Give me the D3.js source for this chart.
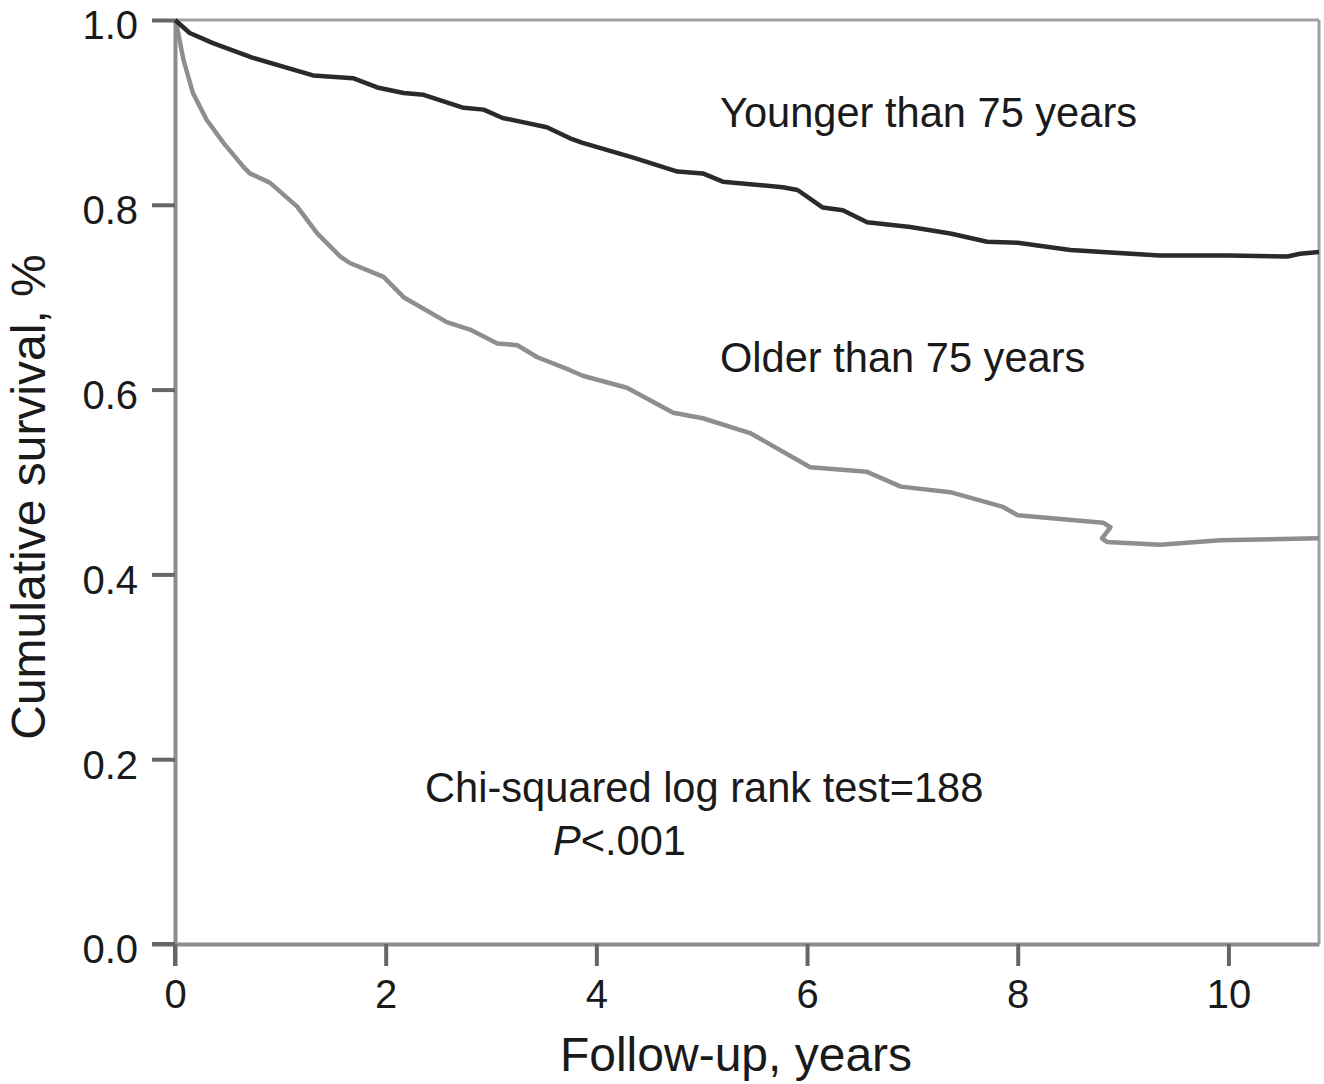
<!DOCTYPE html>
<html>
    <head>
        <title>Cumulative survival</title>
        <style>
            body { margin: 0; background: #fff; }
            text { font-family: "Liberation Sans", Arial, sans-serif; fill: #1a1a1a; }
        </style>
    </head>
    <body>
        <svg></svg>

        <script src="https://d3js.org/d3.v7.min.js"></script>
        <script>
            // years of follow-up and survival
            var youngT = [0, 0.14, 0.36, 0.74, 1.31, 1.69, 1.92, 2.17, 2.36, 2.74, 2.93, 3.11, 3.53, 3.75, 3.87, 4.35, 4.77, 5.01, 5.20, 5.77, 5.91, 6.15, 6.34, 6.57, 6.98, 7.36, 7.71, 8.0, 8.50, 9.35, 10.0, 10.56, 10.68, 10.86];
            var youngS = [1.0, 0.986, 0.975, 0.959, 0.940, 0.937, 0.927, 0.921, 0.919, 0.905, 0.903, 0.894, 0.884, 0.872, 0.867, 0.851, 0.836, 0.834, 0.825, 0.819, 0.816, 0.797, 0.794, 0.781, 0.776, 0.769, 0.760, 0.759, 0.751, 0.745, 0.745, 0.744, 0.747, 0.749];

            var oldT = [0, 0.02, 0.08, 0.17, 0.30, 0.46, 0.65, 0.71, 0.90, 1.16, 1.35, 1.57, 1.66, 1.98, 2.17, 2.58, 2.80, 3.06, 3.25, 3.44, 3.75, 3.87, 4.29, 4.73, 5.01, 5.46, 6.03, 6.57, 6.89, 7.36, 7.86, 8.00, 8.81, 8.88, 8.80, 8.85, 9.35, 9.92, 10.86];
            var oldS = [1.0, 0.992, 0.957, 0.921, 0.892, 0.867, 0.841, 0.834, 0.824, 0.798, 0.769, 0.744, 0.737, 0.722, 0.700, 0.673, 0.665, 0.650, 0.648, 0.635, 0.621, 0.615, 0.602, 0.575, 0.569, 0.553, 0.516, 0.511, 0.495, 0.489, 0.473, 0.464, 0.456, 0.451, 0.439, 0.435, 0.432, 0.437, 0.439];

            var xTicks = [0, 2, 4, 6, 8, 10];
            var yTicks = [0.0, 0.2, 0.4, 0.6, 0.8, 1.0];

            window.onload = function(){
                var svg = d3.select("svg")
                    .attr("width", 1324)
                    .attr("height", 1084);

                var x = d3.scaleLinear().domain([0, 10.86]).range([175, 1319]);
                var y = d3.scaleLinear().domain([0, 1]).range([944, 20]);

                var axisColor = "#8c8c8c";
                var tickColor = "#666";

                // frame top and right
                svg.append("line")
                    .attr("x1", x(0)).attr("x2", x(10.86))
                    .attr("y1", y(1)).attr("y2", y(1))
                    .attr("stroke", "#a0a0a0").attr("stroke-width", 3);
                svg.append("line")
                    .attr("x1", x(10.86)).attr("x2", x(10.86))
                    .attr("y1", y(1)).attr("y2", y(0))
                    .attr("stroke", "#a0a0a0").attr("stroke-width", 3);

                // y axis
                var yAxis = svg.append("g")
                    .attr("transform", "translate(" + x(0) + ",0)")
                    .call(d3.axisLeft(y).tickValues(yTicks).tickFormat(d3.format(".1f")).tickSize(23).tickSizeOuter(0).tickPadding(14));
                // x axis
                var xAxis = svg.append("g")
                    .attr("transform", "translate(0," + y(0) + ")")
                    .call(d3.axisBottom(x).tickValues(xTicks).tickFormat(d3.format("d")).tickSize(22).tickSizeOuter(0).tickPadding(14));

                [yAxis, xAxis].forEach(function(a){
                    a.select(".domain").attr("stroke", axisColor).attr("stroke-width", 4);
                    a.selectAll(".tick line").attr("stroke", tickColor).attr("stroke-width", 4);
                    a.selectAll(".tick text")
                        .attr("font-size", 40)
                        .attr("fill", "#1a1a1a")
                        .attr("font-family", "Liberation Sans, Arial, sans-serif");
                });
                // labels on the left sit a little below their ticks
                yAxis.selectAll(".tick text").attr("dy", "0.47em");

                // left axis line extends to the x tick length below 0
                svg.append("line")
                    .attr("x1", x(0)).attr("x2", x(0))
                    .attr("y1", y(0)).attr("y2", y(0) + 22)
                    .attr("stroke", tickColor).attr("stroke-width", 4);
                svg.append("line")
                    .attr("x1", x(0) - 23).attr("x2", x(0))
                    .attr("y1", y(0)).attr("y2", y(0))
                    .attr("stroke", tickColor).attr("stroke-width", 4);

                // survival curves
                var line = d3.line()
                    .x(function(d){ return x(d[0]); })
                    .y(function(d){ return y(d[1]); });

                var oldPts = oldT.map(function(t, i){ return [t, oldS[i]]; });
                var youngPts = youngT.map(function(t, i){ return [t, youngS[i]]; });

                svg.append("path")
                    .attr("d", line(oldPts))
                    .attr("fill", "none")
                    .attr("stroke", "#8e8e8e")
                    .attr("stroke-width", 4.5)
                    .attr("stroke-linejoin", "round");
                svg.append("path")
                    .attr("d", line(youngPts))
                    .attr("fill", "none")
                    .attr("stroke", "#2a2a2a")
                    .attr("stroke-width", 4.5)
                    .attr("stroke-linejoin", "round");

                // labels
                svg.append("text").attr("x", 720).attr("y", 127)
                    .attr("font-size", 41.6).text("Younger than 75 years");
                svg.append("text").attr("x", 720).attr("y", 372)
                    .attr("font-size", 41.6).text("Older than 75 years");
                svg.append("text").attr("x", 425).attr("y", 802)
                    .attr("font-size", 41.6).text("Chi-squared log rank test=188");
                var p = svg.append("text").attr("x", 553).attr("y", 855)
                    .attr("font-size", 41.6);
                p.append("tspan").attr("font-style", "italic").text("P");
                p.append("tspan").text("<.001");

                // axis titles
                svg.append("text")
                    .attr("x", 736).attr("y", 1071)
                    .attr("text-anchor", "middle")
                    .attr("font-size", 48)
                    .text("Follow-up, years");
                svg.append("text")
                    .attr("transform", "translate(45,497) rotate(-90)")
                    .attr("text-anchor", "middle")
                    .attr("font-size", 48)
                    .text("Cumulative survival, %");
            }
        </script>
    </body>
</html>
